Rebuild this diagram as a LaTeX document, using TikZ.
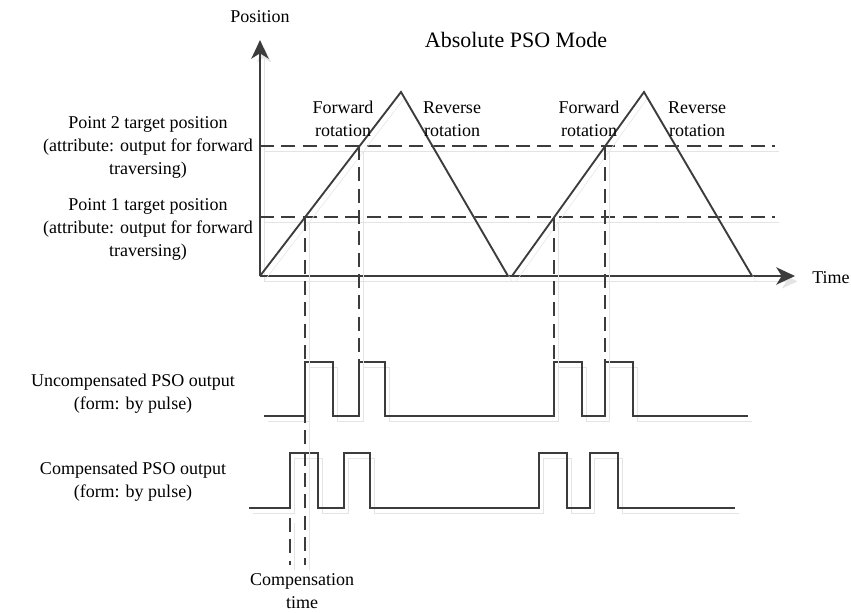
\documentclass[tikz,border=0pt]{standalone}
\usepackage{fontspec}
\setmainfont{Liberation Serif}
\usetikzlibrary{arrows.meta}
\definecolor{ink}{HTML}{3C3C3C}
\definecolor{shade}{HTML}{E4E4E4}
\tikzset{
  shad/.style={preaction={draw=shade,transform canvas={shift={(3pt,-4pt)}}}},
  curve/.style={draw=ink,line width=1.4pt,line join=miter,shad},
  guide/.style={draw=ink,line width=1.4pt,dash pattern=on 10.5pt off 5.5pt,shad},
  axis/.style={draw=ink,line width=1.4pt,-{Stealth[length=14pt,width=13pt,inset=4pt]},shad},
  lbl/.style={font=\fontsize{13.5}{17.25}\selectfont,align=center,inner sep=0pt},
  ttl/.style={font=\fontsize{16.5}{20}\selectfont,inner sep=0pt},
}
\begin{document}
\begin{tikzpicture}[x=0.75pt,y=-0.75pt]
  \useasboundingbox (0,0) rectangle (851,612);
  % axes
  \coordinate (o) at (260,276);
  \coordinate (ytip) at (260,40);
  \coordinate (xtip) at (795,276);
  \draw[axis] (o) -- (ytip);
  \draw[axis] (o) -- (xtip);
  \node[lbl] (ylab) at (260,17) {Position};
  \node[lbl,anchor=west] (xlab) at (812,278) {Time};
  \node[ttl] (title) at (516,40) {Absolute PSO Mode};
  % target levels
  \coordinate (p2l) at (260,146); \coordinate (p2r) at (775,146);
  \coordinate (p1l) at (260,217); \coordinate (p1r) at (775,217);
  \draw[guide] (p2l) -- (p2r);
  \draw[guide] (p1l) -- (p1r);
  % triangle moves
  \coordinate (s1) at (260,276); \coordinate (t1) at (401,92); \coordinate (e1) at (508,276);
  \coordinate (s2) at (512,276); \coordinate (t2) at (644,92); \coordinate (e2) at (752,276);
  \draw[curve] (s1) -- (t1) -- (e1);
  \draw[curve] (s2) -- (t2) -- (e2);
  % crossing points
  \coordinate (c11) at (305,217); \coordinate (c12) at (359,146);
  \coordinate (c21) at (554,217); \coordinate (c22) at (605,146);
  % uncompensated output
  \draw[curve] (264,416) -- (305,416) |- (333,362) |- (359,416) |- (385,362) |- (554,416)
    |- (582,362) |- (605,416) |- (633,362) |- (748,416);
  % compensated output
  \draw[curve] (249,508) -- (290,508) |- (318,453) |- (344,508) |- (370,453) |- (539,508)
    |- (567,453) |- (590,508) |- (618,453) |- (735,508);
  % vertical guides
  \coordinate (g11) at (305,565); \coordinate (g12) at (359,362);
  \coordinate (g21) at (554,362); \coordinate (g22) at (605,362);
  \coordinate (k1) at (290,518); \coordinate (k2) at (290,565);
  \draw[guide] (c11) -- (g11);
  \draw[guide] (c12) -- (g12);
  \draw[guide] (c21) -- (g21);
  \draw[guide] (c22) -- (g22);
  \draw[guide] (k1) -- (k2);
  % labels
  \node[lbl] (pt2) at (148,147) {Point 2 target position\\(attribute: output for forward\\traversing)};
  \node[lbl] (pt1) at (148,229) {Point 1 target position\\(attribute: output for forward\\traversing)};
  \node[lbl] (unc) at (133,394) {Uncompensated PSO output\\(form: by pulse)};
  \node[lbl] (cmp) at (133,482) {Compensated PSO output\\(form: by pulse)};
  \node[lbl] (ctime) at (302,591) {Compensation\\time};
  \node[lbl] (fw1) at (343,119) {Forward\\rotation};
  \node[lbl] (rv1) at (452,119) {Reverse\\rotation};
  \node[lbl] (fw2) at (589,119) {Forward\\rotation};
  \node[lbl] (rv2) at (697,119) {Reverse\\rotation};
\end{tikzpicture}
\end{document}
